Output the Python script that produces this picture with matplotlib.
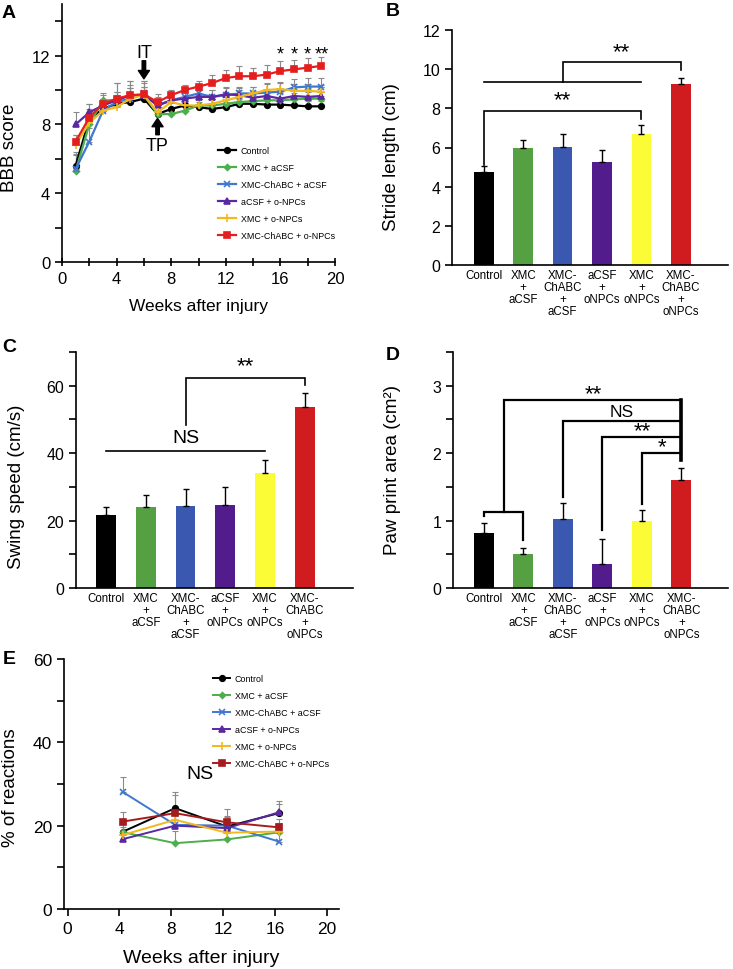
import matplotlib
matplotlib.use('Agg')
import matplotlib.pyplot as plt
import numpy as np

plt.rcParams['font.family'] = ['Liberation Sans', 'DejaVu Sans']

# ---------------- data ----------------
groups_legend = ['Control', 'XMC + aCSF', 'XMC-ChABC + aCSF', 'aCSF + o-NPCs',
                 'XMC + o-NPCs', 'XMC-ChABC + o-NPCs']
bar_labels = ['Control', 'XMC\n+\naCSF', 'XMC-\nChABC\n+\naCSF', 'aCSF\n+\noNPCs',
              'XMC\n+\noNPCs', 'XMC-\nChABC\n+\noNPCs']

weeks_A = list(range(1, 20))
bbb_control = [5.6, 8.3, 8.9, 9.2, 9.3, 9.5, 8.6, 8.9, 9.1, 9.0, 8.9, 9.0, 9.2, 9.2, 9.15, 9.15, 9.1, 9.05, 9.05]
bbb_xmc_acsf = [5.3, 8.0, 9.4, 9.4, 9.7, 9.7, 8.6, 8.6, 8.8, 9.1, 9.1, 9.2, 9.3, 9.35, 9.4, 9.4, 9.45, 9.5, 9.5]
bbb_chabc_acsf = [5.4, 7.0, 8.8, 9.3, 9.5, 9.8, 9.1, 9.4, 9.6, 9.8, 9.6, 9.7, 9.8, 9.8, 9.85, 9.9, 10.15, 10.2, 10.2]
bbb_acsf_npc = [8.0, 8.7, 9.1, 9.4, 9.7, 9.7, 9.1, 9.4, 9.5, 9.6, 9.6, 9.75, 9.7, 9.55, 9.65, 9.5, 9.65, 9.6, 9.65]
bbb_xmc_npc = [6.8, 8.1, 8.8, 9.0, 9.5, 9.7, 8.7, 9.3, 9.1, 9.1, 9.2, 9.4, 9.6, 9.8, 10.0, 10.05, 9.95, 9.95, 9.9]
bbb_chabc_npc = [7.0, 8.4, 9.2, 9.5, 9.7, 9.75, 9.3, 9.7, 10.0, 10.2, 10.4, 10.7, 10.8, 10.8, 10.9, 11.1, 11.2, 11.3, 11.4]
bbb_err_control = [0.8, 0.6, 0.4, 0.5, 0.5, 0.4, 0.4, 0.4, 0.3, 0.3, 0.3, 0.3, 0.3, 0.3, 0.3, 0.3, 0.3, 0.3, 0.3]
bbb_err_xmc_acsf = [0.9, 0.6, 0.4, 0.5, 0.6, 0.5, 0.5, 0.4, 0.4, 0.4, 0.4, 0.4, 0.4, 0.4, 0.4, 0.4, 0.4, 0.4, 0.4]
bbb_err_chabc_acsf = [0.9, 0.8, 0.5, 0.6, 0.6, 0.6, 0.5, 0.4, 0.4, 0.4, 0.4, 0.4, 0.4, 0.4, 0.5, 0.5, 0.5, 0.5, 0.5]
bbb_err_acsf_npc = [0.7, 0.5, 0.4, 1.0, 0.85, 0.8, 0.4, 0.4, 0.4, 0.4, 0.4, 0.4, 0.4, 0.4, 0.4, 0.5, 0.5, 0.5, 0.5]
bbb_err_xmc_npc = [0.6, 0.6, 0.4, 0.6, 0.6, 0.5, 0.5, 0.4, 0.4, 0.4, 0.4, 0.4, 0.4, 0.4, 0.4, 0.4, 0.4, 0.4, 0.4]
bbb_err_chabc_npc = [0.4, 0.8, 0.5, 0.9, 0.85, 0.75, 0.45, 0.3, 0.3, 0.35, 0.45, 0.45, 0.6, 0.5, 0.55, 0.6, 0.55, 0.55, 0.5]
sig_weeks_A = [16, 17, 18, 19]
sig_marks_A = ['*', '*', '*', '**']

stride = [4.75, 6.0, 6.05, 5.25, 6.7, 9.25]
stride_err = [0.28, 0.39, 0.65, 0.61, 0.44, 0.31]

swing = [21.7, 24.0, 24.4, 24.6, 34.2, 53.7]
swing_err = [2.2, 3.5, 4.9, 5.4, 3.8, 4.1]

paw = [0.82, 0.51, 1.03, 0.36, 0.99, 1.60]
paw_err = [0.15, 0.09, 0.23, 0.37, 0.17, 0.18]

weeks_E = [4.3, 8.3, 12.3, 16.3]
react_control = [18.6, 24.2, 19.8, 23.0]
react_xmc_acsf = [18.4, 15.8, 16.7, 18.4]
react_chabc_acsf = [28.0, 20.2, 20.0, 16.2]
react_acsf_npc = [16.8, 20.0, 19.4, 23.2]
react_xmc_npc = [17.8, 21.4, 18.3, 18.6]
react_chabc_npc = [21.0, 23.0, 20.8, 19.6]
react_err_control = [2.5, 3.8, 2.5, 2.3]
react_err_xmc_acsf = [2.0, 3.0, 2.0, 2.0]
react_err_chabc_acsf = [3.6, 2.5, 2.0, 2.0]
react_err_acsf_npc = [2.0, 2.5, 2.0, 2.8]
react_err_xmc_npc = [2.0, 2.5, 2.0, 2.0]
react_err_chabc_npc = [2.4, 4.4, 3.2, 2.0]

# ---------------- styles ----------------
line_colors_A = ['#000000', '#4cae4c', '#3f78cf', '#5a28a0', '#f2b820', '#e41e1e']
line_colors_E = ['#000000', '#4cae4c', '#3f78cf', '#5a28a0', '#f2b820', '#a51c1e']
markers = ['o', 'D', 'x', '^', '+', 's']
msizes = [4, 3, 5, 4, 6, 4.5]
bar_colors = ['#000000', '#55a043', '#3a58b0', '#521c8c', '#fbfb36', '#d01c1f']

W, H = 733, 970
fig = plt.figure(figsize=(W / 100, H / 100), dpi=100)


def add_ax(left, right, top, bottom):
    return fig.add_axes([left / W, 1 - bottom / H, (right - left) / W, (bottom - top) / H])


def style(ax):
    for s in ['top', 'right']:
        ax.spines[s].set_visible(False)
    for s in ['left', 'bottom']:
        ax.spines[s].set_linewidth(1.2)


# ---------------- Panel A ----------------
axA = add_ax(62, 335, 5, 263)
style(axA)
series_A = [bbb_control, bbb_xmc_acsf, bbb_chabc_acsf, bbb_acsf_npc, bbb_xmc_npc, bbb_chabc_npc]
errs_A = [bbb_err_control, bbb_err_xmc_acsf, bbb_err_chabc_acsf, bbb_err_acsf_npc, bbb_err_xmc_npc, bbb_err_chabc_npc]
for yv, ev in zip(series_A, errs_A):
    axA.errorbar(weeks_A, yv, yerr=[np.zeros(len(ev)), ev], fmt='none', ecolor='#8a8a8a',
                 elinewidth=0.8, capsize=2, capthick=0.8, zorder=1)
for i, yv in enumerate(series_A):
    axA.plot(weeks_A, yv, color=line_colors_A[i], marker=markers[i], markersize=msizes[i],
             linewidth=1.6, markeredgewidth=1.2, label=groups_legend[i], zorder=3 + i * 0.1)
axA.set_xlim(0, 20)
axA.set_ylim(0, 15)
axA.set_xticks([0, 4, 8, 12, 16, 20])
axA.set_xticks(np.arange(0, 21, 2), minor=True)
axA.set_yticks([0, 4, 8, 12])
axA.set_yticks([2, 6, 10, 14], minor=True)
axA.tick_params(axis='both', which='both', labelsize=12, width=1.2)
axA.tick_params(axis='x', which='both', direction='inout', length=6)
axA.tick_params(axis='y', which='both', direction='out', length=5)
axA.set_xlabel('Weeks after injury', fontsize=12.5)
axA.xaxis.set_label_coords(0.5, -0.14)
axA.set_ylabel('BBB score', fontsize=13.5)
axA.yaxis.set_label_coords(-0.16, 0.445)
for w, m in zip(sig_weeks_A, sig_marks_A):
    axA.text(w, 12.1, m, ha='center', va='center', fontsize=13)
axA.annotate('', xy=(6, 10.65), xytext=(6, 11.7),
             arrowprops=dict(width=2.5, headwidth=8, headlength=6, color='black', shrink=0))
axA.text(6, 12.2, 'IT', ha='center', va='center', fontsize=13)
axA.annotate('', xy=(7, 8.35), xytext=(7, 7.4),
             arrowprops=dict(width=2.5, headwidth=8, headlength=6, color='black', shrink=0))
axA.text(7, 6.75, 'TP', ha='center', va='center', fontsize=13)
axA.legend(loc='upper left', bbox_to_anchor=(11.45, 6.75), bbox_transform=axA.transData,
           frameon=False, fontsize=6.4, labelspacing=0.9, handlelength=2.0,
           handletextpad=0.5, borderpad=0, borderaxespad=0)


def bar_panel(ax, vals, errs, ylim, yticks, minor, ylabel, label_xy):
    style(ax)
    x = np.arange(len(vals))
    ax.bar(x, vals, width=0.5, color=bar_colors, zorder=2)
    ax.errorbar(x, vals, yerr=[np.zeros(len(errs)), errs], fmt='none', ecolor='black',
                elinewidth=1.0, capsize=2, capthick=1.0, zorder=3)
    ax.set_xticks(x)
    ax.set_xticklabels(bar_labels, fontsize=8.3, linespacing=1.0)
    ax.tick_params(axis='x', length=0, pad=3)
    ax.set_ylim(*ylim)
    ax.set_yticks(yticks)
    if minor is not None:
        ax.set_yticks(minor, minor=True)
    ax.tick_params(axis='y', which='both', direction='out', length=5, width=1.2, labelsize=11.5)
    ax.set_ylabel(ylabel, fontsize=13.5)
    ax.yaxis.set_label_coords(*label_xy)


def bracket(ax, pts, lw=1.2):
    xs, ys = zip(*pts)
    ax.plot(xs, ys, color='black', linewidth=lw, solid_joinstyle='miter', zorder=4)


# ---------------- Panel B ----------------
axB = add_ax(452, 728, 31, 266)
bar_panel(axB, stride, stride_err, (0, 12), np.arange(0, 13, 2), None,
          'Stride length (cm)', (-0.19, 0.464))
axB.set_xlim(-0.81, 6.2)
bracket(axB, [(0, 9.37), (4, 9.37)])
bracket(axB, [(2, 9.37), (2, 10.36), (5, 10.36), (5, 9.97)])
axB.text(3.5, 10.9, '**', ha='center', va='center', fontsize=16)
bracket(axB, [(0, 5.1), (0, 7.87), (4, 7.87), (4, 7.45)])
axB.text(2.0, 8.45, '**', ha='center', va='center', fontsize=16)

# ---------------- Panel C ----------------
axC = add_ax(76, 353, 353, 589)
bar_panel(axC, swing, swing_err, (0, 70), [0, 20, 40, 60], [10, 30, 50, 70],
          'Swing speed (cm/s)', (-0.184, 0.432))
axC.set_xlim(-0.76, 6.22)
bracket(axC, [(0, 40.5), (4, 40.5)])
axC.text(2.0, 44.6, 'NS', ha='center', va='center', fontsize=14)
bracket(axC, [(2, 48.4), (2, 62.2), (5, 62.2), (5, 60.3)])
axC.text(3.5, 65.8, '**', ha='center', va='center', fontsize=16)

# ---------------- Panel D ----------------
axD = add_ax(453, 728, 353, 589)
bar_panel(axD, paw, paw_err, (0, 3.5), [0, 1, 2, 3], [0.5, 1.5, 2.5, 3.5],
          'Paw print area (cm\u00b2)', (-0.19, 0.504))
axD.set_xlim(-0.78, 6.18)
lwD = 1.6
bracket(axD, [(0, 1.07), (0, 1.13), (1, 1.13), (1, 0.71)], lw=lwD)
bracket(axD, [(0.5, 1.13), (0.5, 2.79), (5, 2.79), (5, 1.9)], lw=lwD)
bracket(axD, [(2, 1.35), (2, 2.47), (5, 2.47)], lw=lwD)
bracket(axD, [(3, 0.86), (3, 2.24), (5, 2.24)], lw=lwD)
bracket(axD, [(4, 1.25), (4, 2.0), (5, 2.0)], lw=lwD)
axD.plot([5, 5], [2.79, 1.9], color='black', linewidth=2.6, zorder=4)
axD.text(2.77, 2.88, '**', ha='center', va='center', fontsize=16)
axD.text(3.5, 2.62, 'NS', ha='center', va='center', fontsize=12.5)
axD.text(4.0, 2.33, '**', ha='center', va='center', fontsize=16)
axD.text(4.5, 2.1, '*', ha='center', va='center', fontsize=16)

# ---------------- Panel E ----------------
axE = add_ax(64, 339, 660, 910)
style(axE)
series_E = [react_control, react_xmc_acsf, react_chabc_acsf, react_acsf_npc, react_xmc_npc, react_chabc_npc]
errs_E = [react_err_control, react_err_xmc_acsf, react_err_chabc_acsf, react_err_acsf_npc,
          react_err_xmc_npc, react_err_chabc_npc]
for yv, ev in zip(series_E, errs_E):
    axE.errorbar(weeks_E, yv, yerr=[np.zeros(len(ev)), ev], fmt='none', ecolor='#8a8a8a',
                 elinewidth=0.8, capsize=2, capthick=0.8, zorder=1)
for i, yv in enumerate(series_E):
    axE.plot(weeks_E, yv, color=line_colors_E[i], marker=markers[i], markersize=msizes[i],
             linewidth=1.4, markeredgewidth=1.2, label=groups_legend[i], zorder=3 + i * 0.1)
axE.set_xlim(-0.28, 20.95)
axE.set_ylim(0, 60)
axE.set_xticks([0, 4, 8, 12, 16, 20])
axE.set_yticks([0, 20, 40, 60])
axE.set_yticks([10, 30, 50], minor=True)
axE.tick_params(axis='both', which='both', labelsize=12.5, width=1.2, direction='out', length=5)
axE.set_xlabel('Weeks after injury', fontsize=14)
axE.xaxis.set_label_coords(0.5, -0.16)
axE.set_ylabel('% of reactions', fontsize=13.5)
axE.yaxis.set_label_coords(-0.165, 0.488)
axE.text(10.2, 32.4, 'NS', ha='center', va='center', fontsize=14)
axE.legend(loc='upper left', bbox_to_anchor=(11.2, 56.3), bbox_transform=axE.transData,
           frameon=False, fontsize=6.4, labelspacing=0.9, handlelength=2.0,
           handletextpad=0.5, borderpad=0, borderaxespad=0)

# ---------------- panel letters ----------------
for letter, (px, py) in zip('ABCDE', [(9, 13), (393, 12), (9, 347), (393, 356), (9, 659)]):
    fig.text(px / W, 1 - py / H, letter, fontsize=14, fontweight='bold', ha='center', va='center')

fig.savefig('out.png', dpi=100)
